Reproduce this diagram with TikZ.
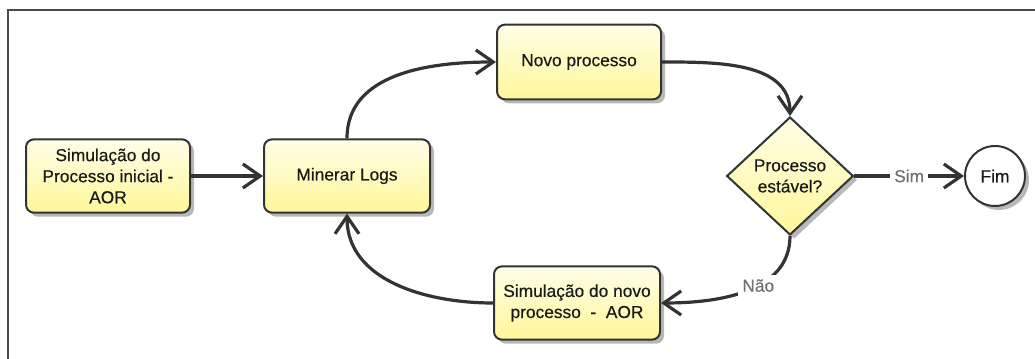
\documentclass[tikz,border=0pt]{standalone}
\usepackage{fontspec}
\setmainfont{Liberation Sans}
\newfontfamily\diagfont[FakeBold=0.35]{Liberation Sans}
\usetikzlibrary{shapes.geometric,shadows,arrows.meta}

\definecolor{edgecol}{HTML}{333333}
\definecolor{framecol}{HTML}{4A4A4A}
\definecolor{boxtop}{HTML}{FFFEE8}
\definecolor{boxbot}{HTML}{FFF79A}
\definecolor{labelgray}{HTML}{707070}

\begin{document}
\begin{tikzpicture}[x=0.75pt,y=-0.75pt,
  font=\diagfont\fontsize{13pt}{15.8pt}\selectfont,
  boxshadow/.style={drop shadow={shadow xshift=3pt,shadow yshift=-3pt,fill=black!35,opacity=0.8}},
  procbox/.style={rectangle,rounded corners=6pt,draw=edgecol,line width=1.5pt,
    top color=boxtop,bottom color=boxbot,align=center,text=black!90,
    minimum width=123pt,minimum height=55pt,inner sep=2pt,boxshadow},
  decision/.style={diamond,aspect=1.08,draw=edgecol,line width=1.5pt,
    top color=boxtop,bottom color=boxbot,align=center,text=black!90,
    minimum width=95pt,minimum height=88.5pt,inner sep=0pt,boxshadow},
  endnode/.style={circle,draw=edgecol,line width=1.5pt,fill=white,text=black!90,
    minimum size=45pt,inner sep=0pt,boxshadow},
  conn/.style={draw=edgecol,line width=2.4pt,
    -{Straight Barb[length=13pt,width=18pt,line width=2.4pt]}},
  lbl/.style={fill=white,text=labelgray,inner sep=3pt}
]
\useasboundingbox (0,0) rectangle (1035,359);

% frame
\draw[framecol,line width=1.5pt] (8,359) -- (8,10) -- (1035,10);

% nodes
\node[procbox] (start) at (108,176) {Simulação do\\Processo inicial -\\AOR};
\node[procbox,minimum width=124.5pt] (minerar) at (347,176) {Minerar Logs};
\node[procbox,minimum height=56pt] (novo) at (579,62) {Novo processo};
\node[procbox,minimum width=124.5pt] (simnovo) at (577,303) {Simulação do novo\\processo \ - \ AOR};
\node[decision] (dec) at (790,176) {Processo\\estável?};
\node[endnode] (fim) at (995,176) {Fim};

% connectors
\draw[conn] (start) -- (minerar);
\draw[conn] (minerar.north) to[out=90,in=180] (novo.west);
\draw[conn] (novo.east) to[out=0,in=90] (dec.north);
\draw[conn] (dec.south) to[out=-90,in=0] node[lbl,pos=0.42] {Não} (simnovo.east);
\draw[conn] (simnovo.west) to[out=180,in=-90] (minerar.south);
\draw[conn] (dec.east) -- node[lbl] {Sim} (fim.west);
\end{tikzpicture}
\end{document}
